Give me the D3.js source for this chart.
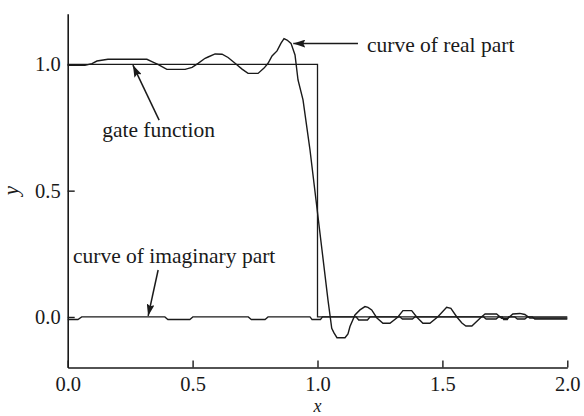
<!DOCTYPE html>
<html>
<head>
<meta charset="utf-8">
<script src="https://cdn.jsdelivr.net/npm/d3@7"></script>
<style>
  html, body { margin: 0; padding: 0; background: #fff; }
  svg { display: block; }
  text { font-family: "Liberation Serif", "Times New Roman", serif; fill: #1a1a1a; }
</style>
</head>
<body>
<svg id="chart" width="584" height="416"></svg>
<script>
// ---- Data ----
const xTicks = [0.0, 0.5, 1.0, 1.5, 2.0];
const yTicks = [0.0, 0.5, 1.0];

const gateX = [0, 1, 1, 2];
const gateY = [1, 1, 0, 0];

const realX = [0, 0.069, 0.097, 0.117, 0.161, 0.317, 0.337, 0.361, 0.397, 0.470,
  0.498, 0.522, 0.550, 0.562, 0.590, 0.618, 0.642, 0.670, 0.698, 0.722, 0.762,
  0.786, 0.802, 0.818, 0.838, 0.854, 0.866, 0.878, 0.894, 0.910, 0.922, 0.942,
  0.970, 0.994, 1.018, 1.042, 1.057, 1.066, 1.078, 1.110, 1.122, 1.130, 1.150,
  1.170, 1.190, 1.202, 1.217, 1.237, 1.262, 1.290, 1.322, 1.342, 1.377, 1.397,
  1.422, 1.450, 1.482, 1.517, 1.534, 1.557, 1.578, 1.594, 1.618, 1.657, 1.671,
  1.717, 1.737, 1.762, 1.782, 1.810, 1.830, 1.850, 2.0];
const realY = [0.996, 0.996, 1.003, 1.013, 1.020, 1.020, 1.011, 1.000, 0.980, 0.980,
  0.988, 1.004, 1.024, 1.029, 1.041, 1.040, 1.027, 1.004, 0.981, 0.964, 0.964,
  0.985, 1.004, 1.033, 1.053, 1.084, 1.102, 1.096, 1.083, 1.037, 0.938, 0.859,
  0.661, 0.463, 0.265, 0.067, -0.045, -0.063, -0.082, -0.082, -0.067, -0.038, 0.008,
  0.028, 0.041, 0.038, 0.028, -0.003, -0.025, -0.025, 0.000, 0.025, 0.025, 0.000,
  -0.025, -0.025, 0.001, 0.038, 0.034, 0.001, -0.024, -0.036, -0.036, 0.001, 0.012,
  0.012, -0.005, -0.005, 0.012, 0.014, 0.010, -0.004, -0.004];

const imagX = [0, 0.041, 0.056, 0.389, 0.401, 0.489, 0.501, 0.723, 0.735, 0.790, 0.802,
  0.970, 0.978, 1.012, 1.020, 1.155, 1.165, 1.200, 1.210, 1.330, 1.340, 1.380, 1.390,
  1.665, 1.675, 1.715, 1.725, 1.740, 1.745, 1.760, 1.765, 1.790, 1.800, 1.830, 1.840,
  1.860, 1.870, 2.0];
const imagY = [-0.010, -0.010, 0, 0, -0.010, -0.010, 0, 0, -0.010, -0.010, 0,
  0, -0.010, -0.010, 0, 0, -0.012, -0.012, 0, 0, -0.008, -0.008, 0,
  0, -0.008, -0.008, 0, 0, -0.010, -0.010, 0, 0, -0.008, -0.008, 0,
  0, -0.008, -0.008];

// ---- Layout ----
const svg = d3.select("#chart");
const ink = "#1a1a1a";
const x = d3.scaleLinear().domain([0, 2]).range([67.7, 567.3]);
const y = d3.scaleLinear().domain([-0.2, 1.2]).range([367.5, 13.8]);

const line = d3.line().x(d => x(d[0])).y(d => y(d[1]));
const zip = (a, b) => a.map((v, i) => [v, b[i]]);

// Curves
svg.append("path").datum(zip(gateX, gateY)).attr("d", line)
  .attr("fill", "none").attr("stroke", ink).attr("stroke-width", 1.3);
svg.append("path").datum(zip(imagX, imagY)).attr("d", line)
  .attr("fill", "none").attr("stroke", ink).attr("stroke-width", 1.3);
svg.append("path").datum(zip(realX, realY)).attr("d", line)
  .attr("fill", "none").attr("stroke", ink).attr("stroke-width", 1.4);

// Axes
const yAxis = d3.axisLeft(y).tickValues(yTicks).tickFormat(d3.format(".1f"))
  .tickSizeInner(-7).tickSizeOuter(0).tickPadding(7);
const xAxis = d3.axisBottom(x).tickValues(xTicks).tickFormat(d3.format(".1f"))
  .tickSizeInner(-7).tickSizeOuter(0).tickPadding(9);

const gy = svg.append("g").attr("transform", `translate(${x(0)},0)`).call(yAxis);
const gx = svg.append("g").attr("transform", `translate(0,${y(-0.2)})`).call(xAxis);
[gx, gy].forEach(g => {
  g.select(".domain").attr("stroke", ink).attr("stroke-width", 1.6);
  g.selectAll(".tick line").attr("stroke", ink).attr("stroke-width", 1.4);
  g.selectAll(".tick text").attr("font-size", 20.5)
    .attr("font-family", "'Liberation Serif', 'Times New Roman', serif").attr("fill", ink);
});

// Axis titles
svg.append("text").attr("transform", `translate(18,${y(0.5)}) rotate(-90)`)
  .attr("text-anchor", "middle").attr("font-size", 21).attr("font-style", "italic").text("y");
svg.append("text").attr("x", x(1)).attr("y", 412)
  .attr("text-anchor", "middle").attr("font-size", 18).attr("font-style", "italic").text("x");

// Annotations
const defs = svg.append("defs");
defs.append("marker").attr("id", "ah").attr("viewBox", "0 0 12 8")
  .attr("refX", 12).attr("refY", 4).attr("markerWidth", 12).attr("markerHeight", 8)
  .attr("markerUnits", "userSpaceOnUse").attr("orient", "auto")
  .append("path").attr("d", "M0,0 L12,4 L0,8 L2,4 Z").attr("fill", ink);

const notes = [
  { text: "curve of real part", tx: 1.198, ty: 1.048, ax0: 1.162, ay0: 1.082, ax1: 0.903, ay1: 1.082 },
  { text: "gate function", tx: 0.138, ty: 0.712, ax0: 0.366, ay0: 0.779, ax1: 0.261, ay1: 0.997 },
  { text: "curve of imaginary part", tx: 0.021, ty: 0.212, ax0: 0.362, ay0: 0.186, ax1: 0.322, ay1: 0.004 }
];
notes.forEach(n => {
  svg.append("line").attr("x1", x(n.ax0)).attr("y1", y(n.ay0))
    .attr("x2", x(n.ax1)).attr("y2", y(n.ay1))
    .attr("stroke", ink).attr("stroke-width", 1.5).attr("marker-end", "url(#ah)");
  svg.append("text").attr("x", x(n.tx)).attr("y", y(n.ty))
    .attr("font-size", 21.5).text(n.text);
});
</script>
</body>
</html>
